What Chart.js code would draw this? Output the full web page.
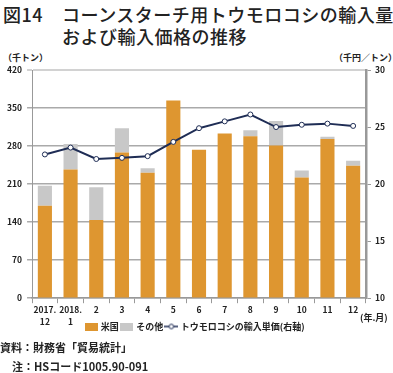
<!DOCTYPE html>
<html lang="ja">
<head>
    <meta charset="UTF-8">
    <title>コーンスターチ用トウモロコシの輸入量および輸入価格の推移</title>
    <style>
        body {
            margin: 0;
            width: 393px;
            height: 373px;
            background: #fff;
            font-family: "Noto Sans CJK JP", sans-serif;
            color: #222;
            position: relative;
            overflow: hidden;
        }

        .title {
            position: absolute;
            left: 3px;
            font-size: 18px;
            font-weight: 500;
            line-height: 22px;
            letter-spacing: 0.5px;
            white-space: nowrap;
        }

        .unit,
        .note {
            position: absolute;
            white-space: nowrap;
        }

        .unit {
            font-size: 9px;
            font-weight: bold;
        }

        .note {
            font-size: 11px;
            font-weight: 600;
        }

        #wrap {
            position: absolute;
            left: 0;
            top: 52px;
            width: 393px;
            height: 299px;
        }
    </style>
    <script src="https://cdn.jsdelivr.net/npm/chart.js"></script>
</head>

<body>
    <div class="title" style="top:3px;">図14<span style="margin-left:19px;">コーンスターチ用トウモロコシの輸入量</span></div>
    <div class="title" style="top:25px; left:62px;">および輸入価格の推移</div>

    <div class="unit" style="left:3px; top:51px;">（千トン）</div>
    <div class="unit" style="left:334px; top:51px;">（千円／トン）</div>

    <div id="wrap">
        <canvas id="chart"></canvas>
    </div>

    <div class="unit" style="left:360px; top:311px;">(年.月)</div>

    <div class="note" style="left:0; top:339px;">資料：財務省「貿易統計」</div>
    <div class="note" style="left:12px; top:358px;">注：HSコード1005.90-091</div>

    <script>
        // months (year.month)
        const months = [['2017.', '12'], ['2018.', '1'], '2', '3', '4', '5', '6', '7', '8', '9', '10', '11', '12'];

        // import volume, thousand tons
        const usVolume = [170, 237, 144, 268, 231, 364, 273, 303, 298, 281, 222, 293, 244];
        const otherVolume = [37, 47, 60, 45, 8, 0, 0, 0, 11, 45, 13, 4, 9];

        // import unit price, thousand yen / ton (right axis)
        const unitPrice = [22.6, 23.2, 22.2, 22.3, 22.45, 23.7, 24.9, 25.5, 26.1, 25.0, 25.2, 25.3, 25.1];

        const ORANGE = '#de9630';
        const GREY = '#c8c8c8';
        const NAVY = '#1f2d55';

        // small pictures for the legend
        function makeBox(color) {
            const c = document.createElement('canvas');
            c.width = 13;
            c.height = 8;
            const g = c.getContext('2d');
            g.fillStyle = color;
            g.fillRect(0, 0, 13, 8);
            return c;
        }

        function makeLineMark() {
            const c = document.createElement('canvas');
            c.width = 14;
            c.height = 8;
            const g = c.getContext('2d');
            g.strokeStyle = NAVY;
            g.lineWidth = 1.5;
            g.beginPath();
            g.moveTo(0, 4);
            g.lineTo(14, 4);
            g.stroke();
            g.fillStyle = '#fff';
            g.beginPath();
            g.arc(7, 4, 2.3, 0, Math.PI * 2);
            g.fill();
            g.lineWidth = 1;
            g.stroke();
            return c;
        }

        const legendMarks = [makeBox(ORANGE), makeBox(GREY), makeLineMark()];

        // the legend sits beside the second row of month labels
        const liftLegend = {
            id: 'liftLegend',
            afterLayout(chart) {
                chart.legend.top -= 10;
                chart.legend.bottom -= 10;
            }
        };

        const tickFont = { family: '"Noto Sans CJK JP", sans-serif', size: 8.5, weight: 'bold', lineHeight: 1.4 };

        new Chart(document.getElementById('chart'), {
            data: {
                labels: months,
                datasets: [
                    {
                        type: 'bar',
                        label: '米国',
                        data: usVolume,
                        backgroundColor: ORANGE,
                        yAxisID: 'y',
                        order: 1,
                        barPercentage: 0.55,
                        categoryPercentage: 1
                    },
                    {
                        type: 'bar',
                        label: 'その他',
                        data: otherVolume,
                        backgroundColor: GREY,
                        yAxisID: 'y',
                        order: 2,
                        barPercentage: 0.55,
                        categoryPercentage: 1
                    },
                    {
                        type: 'line',
                        label: 'トウモロコシの輸入単価(右軸)',
                        data: unitPrice,
                        yAxisID: 'y1',
                        order: 0,
                        borderColor: NAVY,
                        borderWidth: 2,
                        pointRadius: 2.5,
                        pointBorderWidth: 1,
                        pointBackgroundColor: '#fff',
                        pointBorderColor: NAVY,
                        tension: 0
                    }
                ]
            },
            plugins: [liftLegend],
            options: {
                responsive: true,
                maintainAspectRatio: false,
                animation: false,
                layout: {
                    padding: { left: 2, right: 4, top: 18, bottom: 0 }
                },
                plugins: {
                    tooltip: { enabled: false },
                    legend: {
                        position: 'bottom',
                        labels: {
                            usePointStyle: true,
                            pointStyleWidth: 10,
                            padding: 3,
                            color: '#222',
                            font: { family: '"Noto Sans CJK JP", sans-serif', size: 9, weight: 'bold' },
                            sort: (a, b) => a.datasetIndex - b.datasetIndex,
                            generateLabels: function (chart) {
                                const items = Chart.defaults.plugins.legend.labels.generateLabels(chart);
                                items.forEach(item => {
                                    item.pointStyle = legendMarks[item.datasetIndex];
                                });
                                return items;
                            }
                        }
                    }
                },
                scales: {
                    x: {
                        stacked: true,
                        offset: true,
                        border: { color: '#999', width: 1.5 },
                        grid: {
                            offset: true,
                            drawOnChartArea: false,
                            tickLength: 5,
                            color: '#999'
                        },
                        ticks: {
                            color: '#222',
                            font: tickFont,
                            maxRotation: 0,
                            autoSkip: false,
                            padding: 1
                        }
                    },
                    y: {
                        position: 'left',
                        stacked: true,
                        min: 0,
                        max: 420,
                        border: { color: '#999', width: 1 },
                        grid: {
                            color: ctx => ctx.tick && ctx.tick.value === 420 ? '#d2d2d2' : '#aaa',
                            lineWidth: ctx => ctx.tick && ctx.tick.value === 420 ? 2 : 1.5,
                            tickLength: 5
                        },
                        ticks: {
                            stepSize: 70,
                            color: '#222',
                            font: tickFont,
                            padding: 5
                        }
                    },
                    y1: {
                        position: 'right',
                        min: 10,
                        max: 30,
                        border: { color: '#999', width: 2.5 },
                        grid: {
                            drawOnChartArea: false,
                            color: '#999',
                            tickLength: 5
                        },
                        ticks: {
                            stepSize: 5,
                            color: '#222',
                            font: tickFont,
                            padding: 4
                        }
                    }
                }
            }
        });
    </script>
</body>

</html>
